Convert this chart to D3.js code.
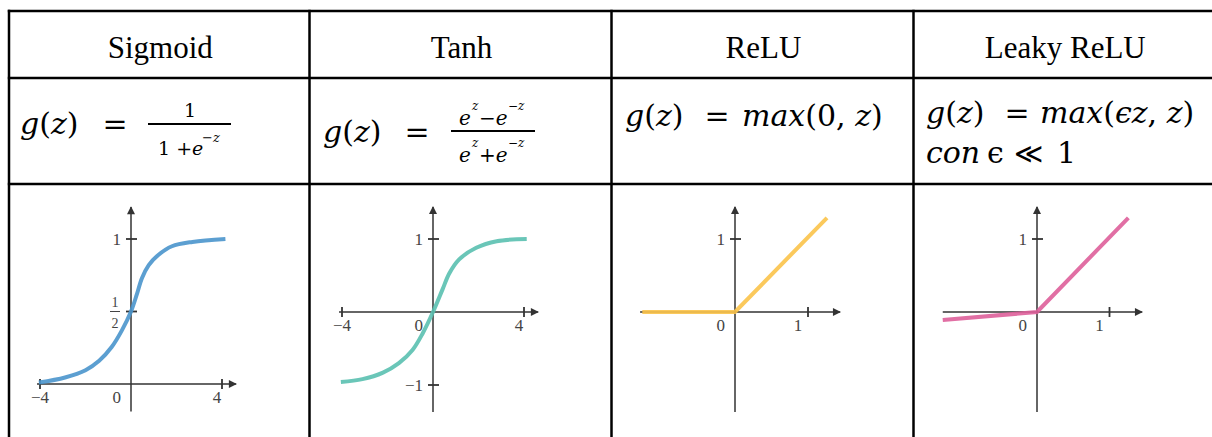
<!DOCTYPE html>
<html>
<head>
<meta charset="utf-8">
<script src="https://cdn.jsdelivr.net/npm/d3@7"></script>
<style>
  body { margin: 0; background: #fff; }
  svg { display: block; }
  .head { font-family: "Liberation Serif", serif; font-size: 31px; fill: #000; }
  .math { font-family: "DejaVu Serif", serif; fill: #000; }
  .tick-label { font-family: "Liberation Serif", serif; font-size: 17px; fill: #444; }
</style>
</head>
<body>
<div id="chart"></div>
<script>
// column titles
const titles = ["Sigmoid", "Tanh", "ReLU", "Leaky ReLU"];

// curve points
const sigmoidZ = [-4.05, -2.9, -2.0, -1.4, -0.85, -0.4, 0, 0.26, 0.48, 0.78, 1.2, 1.8, 2.7, 4.15];
const sigmoidG = [0.01, 0.045, 0.095, 0.16, 0.255, 0.37, 0.5, 0.62, 0.73, 0.82, 0.89, 0.95, 0.98, 1.0];
const tanhZ = [-4.05, -3.1, -2.2, -1.5, -0.9, -0.45, 0, 0.42, 0.72, 1.15, 1.9, 2.8, 4.12];
const tanhG = [-0.96, -0.92, -0.83, -0.7, -0.52, -0.29, 0, 0.31, 0.53, 0.72, 0.88, 0.97, 1.0];
const reluZ = [-1.27, 0, 1.26];
const reluG = [0, 0, 1.29];
const leakyZ = [-1.3, 0, 1.26];
const leakyG = [-0.11, 0, 1.29];

// tick values + labels
const sigmoidXTicks = [-4, 4];
const sigmoidYTicks = [1, 0.5];
const tanhXTicks = [-4, 4];
const tanhYTicks = [1, -1];
const reluXTicks = [1];
const reluYTicks = [1];

let width = 1212;
let height = 437;

let svg = d3.select("#chart").append("svg")
  .attr("width", width)
  .attr("height", height);

svg.append("defs").append("marker")
  .attr("id", "arrow")
  .attr("viewBox", "0 0 10 10")
  .attr("refX", 9).attr("refY", 5)
  .attr("markerUnits", "userSpaceOnUse")
  .attr("markerWidth", 9).attr("markerHeight", 8)
  .attr("orient", "auto")
  .append("path")
  .attr("d", "M0,0 L10,5 L0,10 Z")
  .attr("fill", "#333");

// ---- table grid ----
let colX = [9, 309.5, 611.5, 913.5, 1215];
let rowY = [11, 78, 184, 440];

let grid = svg.append("g").attr("stroke", "#000").attr("stroke-width", 2.5);
colX.slice(0, 4).forEach((x) => {
  grid.append("line").attr("x1", x).attr("x2", x).attr("y1", rowY[0] - 1.2).attr("y2", height);
});
rowY.slice(0, 3).forEach((y) => {
  grid.append("line").attr("x1", colX[0] - 1.2).attr("x2", width).attr("y1", y).attr("y2", y);
});

svg.selectAll("text.head")
  .data(titles)
  .enter()
  .append("text")
  .classed("head", true)
  .attr("text-anchor", "middle")
  .attr("x", (d, i) => (colX[i] + colX[i + 1]) / 2 + 1)
  .attr("y", 58)
  .text((d) => d);

// ---- formulas ----
function mathText(x, y, size, parts, anchor) {
  let t = svg.append("text").classed("math", true)
    .attr("x", x).attr("y", y)
    .style("font-size", size + "px")
    .attr("text-anchor", anchor || "start");
  parts.forEach((p) => {
    t.append("tspan")
      .style("font-style", p[1] ? "italic" : "normal")
      .text(p[0]);
  });
  return t;
}
function bar(x1, x2, y) {
  svg.append("line").attr("x1", x1).attr("x2", x2).attr("y1", y).attr("y2", y)
    .attr("stroke", "#000").attr("stroke-width", 1.8);
}

// sigmoid
mathText(20, 134, 30, [["g", true], ["(", false], ["z", true], [")", false]]);
mathText(115, 134, 30, [["=", false]], "middle");
mathText(190, 117, 19, [["1", false]], "middle");
bar(148, 231, 124);
mathText(158, 155, 19, [["1 +", false], ["e", true]]);
mathText(202, 142, 13, [["−", false], ["z", true]]);

// tanh
mathText(323, 142, 30, [["g", true], ["(", false], ["z", true], [")", false]]);
mathText(417, 142, 30, [["=", false]], "middle");
bar(451, 535, 131);
mathText(459, 125, 20, [["e", true]]);
mathText(472, 110, 12, [["z", true]]);
mathText(479, 125, 20, [["−", false], ["e", true]]);
mathText(508, 110, 12, [["−", false], ["z", true]]);
mathText(459, 162, 20, [["e", true]]);
mathText(472, 147, 12, [["z", true]]);
mathText(479, 162, 20, [["+", false], ["e", true]]);
mathText(508, 147, 12, [["−", false], ["z", true]]);

// relu
mathText(625, 126, 30, [["g", true], ["(", false], ["z", true], [")", false]]);
mathText(717, 126, 30, [["=", false]], "middle");
mathText(742, 126, 30, [["max", true], ["(0, ", false], ["z", true], [")", false]]);

// leaky relu
mathText(926, 123, 30, [["g", true], ["(", false], ["z", true], [")", false]]);
mathText(1017, 123, 30, [["=", false]], "middle");
mathText(1040, 123, 30, [["max", true], ["(", false], ["ϵz", true], [", ", false], ["z", true], [")", false]]);
mathText(926, 163, 30, [["con", true]]);
mathText(987, 163, 30, [["ϵ", false]]);
mathText(1014, 163, 28, [["≪", false]]);
mathText(1057, 163, 30, [["1", false]]);

// ---- plots ----
let panels = [
  { z: sigmoidZ, g: sigmoidG, color: "#4a95cc", xd: [-4, 4], xr: [40, 222], yd: [0, 1], yr: [384, 239],
    xExt: [-4.13, 4.62], yExt: [-0.19, 1.22], xTicks: sigmoidXTicks, yTicks: sigmoidYTicks, curve: d3.curveCatmullRom.alpha(0.5) },
  { z: tanhZ, g: tanhG, color: "#5ac0b0", xd: [-4, 4], xr: [342, 524], yd: [0, 1], yr: [312, 239],
    xExt: [-4.13, 4.62], yExt: [-1.37, 1.44], xTicks: tanhXTicks, yTicks: tanhYTicks, curve: d3.curveCatmullRom.alpha(0.5) },
  { z: reluZ, g: reluG, color: "#fbc34a", xd: [0, 1], xr: [735, 808], yd: [0, 1], yr: [312, 239],
    xExt: [-1.3, 1.44], yExt: [-1.37, 1.44], xTicks: reluXTicks, yTicks: reluYTicks, curve: d3.curveLinear },
  { z: leakyZ, g: leakyG, color: "#de5f9a", xd: [0, 1], xr: [1037, 1109.5], yd: [0, 1], yr: [312, 239],
    xExt: [-1.3, 1.45], yExt: [-1.37, 1.44], xTicks: reluXTicks, yTicks: reluYTicks, curve: d3.curveLinear }
];

panels.forEach((p, i) => {
  let x = d3.scaleLinear().domain(p.xd).range(p.xr);
  let y = d3.scaleLinear().domain(p.yd).range(p.yr);
  let g = svg.append("g");
  let ax = g.append("g").attr("stroke", "#333").attr("stroke-width", 1.5);

  ax.append("line")
    .attr("x1", x(p.xExt[0])).attr("x2", x(p.xExt[1]))
    .attr("y1", y(0)).attr("y2", y(0))
    .attr("marker-end", "url(#arrow)");
  ax.append("line")
    .attr("x1", x(0)).attr("x2", x(0))
    .attr("y1", y(p.yExt[0])).attr("y2", y(p.yExt[1]))
    .attr("marker-end", "url(#arrow)");

  p.xTicks.forEach((t) => {
    ax.append("line").attr("x1", x(t)).attr("x2", x(t))
      .attr("y1", y(0) - 5).attr("y2", y(0) + 5).attr("stroke-width", 1.8);
    let lbl = t < 0 ? "−" + Math.abs(t) : String(t);
    let dx = t < 0 ? 0 : (p.xd[1] === 1 ? -10 : -5);
    g.append("text").classed("tick-label", true)
      .attr("text-anchor", "middle")
      .attr("x", x(t) + dx).attr("y", y(0) + 19)
      .text(lbl);
  });
  g.append("text").classed("tick-label", true)
    .attr("text-anchor", "end")
    .attr("x", x(0) - 10).attr("y", y(0) + 19)
    .text("0");

  p.yTicks.forEach((t) => {
    ax.append("line").attr("x1", x(0) - 5).attr("x2", x(0) + 6)
      .attr("y1", y(t)).attr("y2", y(t)).attr("stroke-width", 1.8);
    if (t === 0.5) {
      let cx = x(0) - 16;
      g.append("text").classed("tick-label", true).style("font-size", "14px")
        .attr("text-anchor", "middle").attr("x", cx).attr("y", y(t) - 5).text("1");
      g.append("line").attr("x1", cx - 5).attr("x2", cx + 5)
        .attr("y1", y(t)).attr("y2", y(t)).attr("stroke", "#444").attr("stroke-width", 1);
      g.append("text").classed("tick-label", true).style("font-size", "14px")
        .attr("text-anchor", "middle").attr("x", cx).attr("y", y(t) + 16).text("2");
    } else {
      g.append("text").classed("tick-label", true)
        .attr("text-anchor", "end")
        .attr("x", x(0) - 10).attr("y", y(t) + 6)
        .text(t < 0 ? "−" + Math.abs(t) : String(t));
    }
  });

  let line = d3.line()
    .x((d, k) => x(p.z[k]))
    .y((d, k) => y(p.g[k]))
    .curve(p.curve);
  g.append("path")
    .datum(p.z)
    .attr("d", line)
    .attr("fill", "none")
    .attr("stroke", p.color)
    .attr("stroke-width", 4)
    .attr("stroke-opacity", 0.9);
});
</script>
</body>
</html>
